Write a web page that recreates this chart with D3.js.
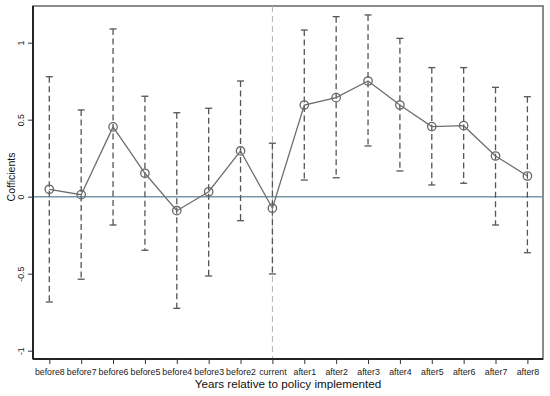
<!DOCTYPE html>
<html>
<head>
<meta charset="utf-8">
<script src="https://cdn.jsdelivr.net/npm/d3@7"></script>
<style>
  body { margin: 0; background: #fff; }
  text { font-family: Arial, "Liberation Sans", sans-serif; }
</style>
</head>
<body>
<div id="chart"></div>
<script>
// event-study coefficients and 95% CI
const periods = ["before8", "before7", "before6", "before5", "before4", "before3", "before2", "current",
                 "after1", "after2", "after3", "after4", "after5", "after6", "after7", "after8"];
const coef  = [0.048, 0.013, 0.453, 0.152, -0.091, 0.032, 0.297, -0.075,
               0.595, 0.643, 0.751, 0.595, 0.455, 0.461, 0.264, 0.134];
const upper = [0.779, 0.563, 1.089, 0.652, 0.545, 0.574, 0.751, 0.347,
               1.082, 1.169, 1.180, 1.028, 0.838, 0.838, 0.710, 0.649];
const lower = [-0.684, -0.536, -0.184, -0.348, -0.725, -0.515, -0.156, -0.502,
               0.108, 0.123, 0.329, 0.167, 0.076, 0.087, -0.184, -0.364];
const yTicks = [-1, -0.5, 0, 0.5, 1];
const eventPeriod = "current";

const width = 550, height = 396;
const m = { left: 33, right: 543, top: 6, bottom: 359 };

let svg = d3.select("#chart").append("svg")
    .attr("width", width).attr("height", height);

let x = d3.scalePoint().domain(periods).range([49.3, 527.4]);
let y = d3.scaleLinear().domain([-1.054, 1.238]).range([m.bottom, m.top]);

let data = periods.map((p, i) => ({ p: p, b: coef[i], hi: upper[i], lo: lower[i] }));

// plot region outline
svg.append("rect")
    .attr("x", m.left).attr("y", m.top)
    .attr("width", m.right - m.left).attr("height", m.bottom - m.top)
    .attr("fill", "none").attr("stroke", "#666").attr("stroke-width", 1.5);

// reference lines
svg.append("line")
    .attr("x1", m.left).attr("x2", m.right)
    .attr("y1", y(0)).attr("y2", y(0))
    .attr("stroke", "#7b95a9").attr("stroke-width", 1.5);

svg.append("line")
    .attr("x1", x(eventPeriod)).attr("x2", x(eventPeriod))
    .attr("y1", m.top).attr("y2", m.bottom)
    .attr("stroke", "#aab2b8").attr("stroke-width", 1)
    .attr("stroke-dasharray", "6,4");

// confidence intervals
let ci = svg.append("g").attr("stroke", "#555").attr("stroke-width", 1.3);
ci.selectAll("line.bar").data(data).enter().append("line")
    .attr("x1", d => x(d.p)).attr("x2", d => x(d.p))
    .attr("y1", d => y(d.hi)).attr("y2", d => y(d.lo))
    .attr("stroke-dasharray", "6,3.5");
ci.selectAll("line.top").data(data).enter().append("line")
    .attr("x1", d => x(d.p) - 3.5).attr("x2", d => x(d.p) + 3.5)
    .attr("y1", d => y(d.hi)).attr("y2", d => y(d.hi));
ci.selectAll("line.bot").data(data).enter().append("line")
    .attr("x1", d => x(d.p) - 3.5).attr("x2", d => x(d.p) + 3.5)
    .attr("y1", d => y(d.lo)).attr("y2", d => y(d.lo));

// coefficient line and markers
let line = d3.line().x(d => x(d.p)).y(d => y(d.b));
svg.append("path").datum(data)
    .attr("d", line)
    .attr("fill", "none").attr("stroke", "#6e6e6e").attr("stroke-width", 1.3);

svg.append("g").selectAll("circle").data(data).enter().append("circle")
    .attr("cx", d => x(d.p)).attr("cy", d => y(d.b)).attr("r", 4.2)
    .attr("fill", "none").attr("stroke", "#666").attr("stroke-width", 1.3);

// axes
let xAxis = d3.axisBottom(x).tickSize(5).tickPadding(5);
let gx = svg.append("g").attr("transform", `translate(0,${m.bottom})`).call(xAxis);
gx.select(".domain").attr("d", `M${m.left},0H${m.right}`).attr("stroke", "#000").attr("stroke-width", 1.5);
gx.selectAll(".tick line").attr("stroke", "#333");
gx.selectAll(".tick text").attr("font-size", 8.8).attr("fill", "#222");

let yAxis = d3.axisLeft(y).tickValues(yTicks).tickSize(5).tickFormat(d => d === 0 ? "0" : String(d));
let gy = svg.append("g").attr("transform", `translate(${m.left},0)`).call(yAxis);
gy.select(".domain").attr("d", `M0,${m.top}V${m.bottom}`).attr("stroke", "#000").attr("stroke-width", 1.5);
gy.selectAll(".tick line").attr("stroke", "#333");
gy.selectAll(".tick text")
    .attr("font-size", 8.8).attr("fill", "#222")
    .attr("x", null).attr("dy", null)
    .attr("text-anchor", "middle")
    .attr("transform", "translate(-9,0) rotate(-90)");

// titles
svg.append("text")
    .attr("x", (m.left + m.right) / 2).attr("y", 388)
    .attr("text-anchor", "middle").attr("font-size", 11.7).attr("fill", "#111")
    .text("Years relative to policy implemented");

svg.append("text")
    .attr("transform", `translate(15,177) rotate(-90)`)
    .attr("text-anchor", "middle").attr("font-size", 10.5).attr("fill", "#111")
    .text("Cofficients");
</script>
</body>
</html>
